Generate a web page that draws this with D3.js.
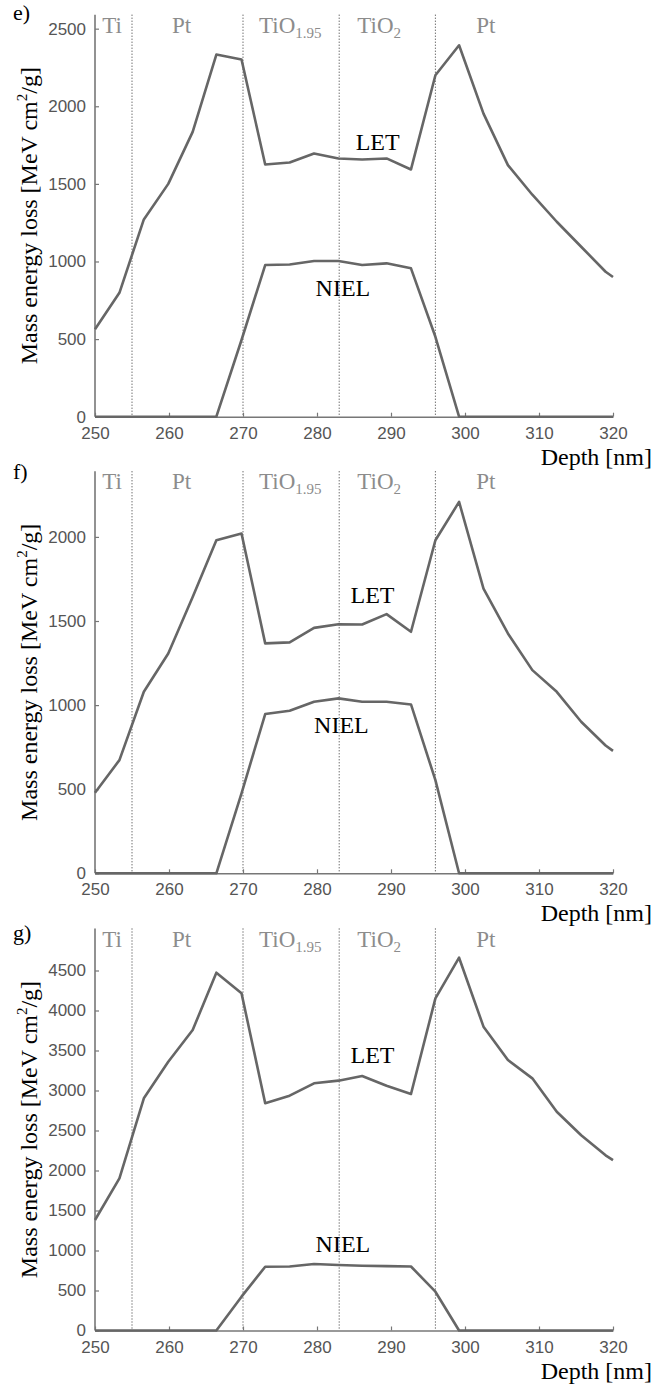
<!DOCTYPE html>
<html><head><meta charset="utf-8">
<script src="https://cdn.jsdelivr.net/npm/d3@7"></script>
<style>body{margin:0;background:#fff}svg{display:block}</style>
</head><body>
<script>
// ---- data ----
const depth = [250, 253.3, 256.6, 259.9, 263.2, 266.4, 269.8, 273.0, 276.3, 279.6, 282.9, 286.1, 289.4, 292.7, 296.0, 299.2, 302.5, 305.8, 309.1, 312.4, 315.7, 319.0, 320];
const letE  = [563, 798, 1271, 1500, 1835, 2333, 2301, 1625, 1638, 1696, 1664, 1657, 1664, 1593, 2200, 2393, 1953, 1621, 1430, 1256, 1095, 934, 900];
const nielE = [0, 0, 0, 0, 0, 0, 494, 977, 981, 1003, 1003, 977, 988, 956, 515, 0, 0, 0, 0, 0, 0, 0, 0];
const letF  = [479, 673, 1079, 1307, 1643, 1980, 2020, 1367, 1373, 1459, 1481, 1479, 1541, 1436, 1980, 2208, 1693, 1426, 1208, 1079, 901, 760, 728];
const nielF = [0, 0, 0, 0, 0, 0, 475, 947, 966, 1020, 1040, 1020, 1020, 1004, 554, 0, 0, 0, 0, 0, 0, 0, 0];
const letG  = [1381, 1902, 2902, 3360, 3756, 4473, 4215, 2840, 2935, 3090, 3123, 3181, 3060, 2956, 4152, 4660, 3798, 3381, 3152, 2735, 2440, 2190, 2130];
const nielG = [0, 0, 0, 0, 0, 0, 423, 797, 800, 831, 819, 810, 805, 800, 485, 0, 0, 0, 0, 0, 0, 0, 0];
const xTicks = [250, 260, 270, 280, 290, 300, 310, 320];
const yTicksE = [0, 500, 1000, 1500, 2000, 2500];
const yTicksF = [0, 500, 1000, 1500, 2000];
const yTicksG = [0, 500, 1000, 1500, 2000, 2500, 3000, 3500, 4000, 4500];
const layerBounds = [255, 270, 283, 296];
const layerNames = ["Ti", "Pt", "TiO", "TiO", "Pt"];
const layerSubs  = ["", "", "1.95", "2", ""];
const layerCenters = [252.3, 261.7, 276.4, 288.4, 302.8];
const panelLabels = ["e)", "f)", "g)"];
const yMaxes = [2590, 2390, 5025];

// ---- layout ----
const W = 667, H = 1387;
const serif = "'Liberation Serif','Times New Roman',serif";
const sans = "'Liberation Sans',Arial,sans-serif";
const svg = d3.select("body").append("svg").attr("width", W).attr("height", H);
const x = d3.scaleLinear().domain([250, 320]).range([95, 613]);

const panels = [
  {let: letE, niel: nielE, yTicks: yTicksE, bottom: 416.7, labY: 20, letPos: [288.2, 1717], nielPos: [283.5, 777]},
  {let: letF, niel: nielF, yTicks: yTicksF, bottom: 873.3, labY: 479, letPos: [287.5, 1606], nielPos: [283.3, 834]},
  {let: letG, niel: nielG, yTicks: yTicksG, bottom: 1330.5, labY: 940, letPos: [287.5, 3348], nielPos: [283.5, 985]}
];
const plotH = 402;
const lineCol = "#666", axisCol = "#777", tickTxt = "#555";

panels.forEach((p, i) => {
  const top = p.bottom - plotH;
  const y = d3.scaleLinear().domain([0, yMaxes[i]]).range([p.bottom, top]);
  const g = svg.append("g");

  // layer boundaries (dotted)
  g.selectAll("line.bound").data(layerBounds).join("line")
    .attr("x1", d => x(d)).attr("x2", d => x(d))
    .attr("y1", top).attr("y2", p.bottom)
    .attr("stroke", "#333").attr("stroke-width", 1).attr("stroke-dasharray", "1,2");

  // layer names
  layerNames.forEach((n, k) => {
    const t = g.append("text").attr("x", x(layerCenters[k])).attr("y", top + 18)
      .attr("text-anchor", "middle").attr("font-family", serif).attr("font-size", 23)
      .attr("fill", "#8c8c8c").text(n);
    if (layerSubs[k]) t.append("tspan").attr("font-size", 15).attr("dy", 5).text(layerSubs[k]);
  });

  // axes
  const xAx = g.append("g").attr("transform", `translate(0,${p.bottom})`)
    .call(d3.axisBottom(x).tickValues(xTicks).tickSizeInner(-4).tickSizeOuter(0).tickPadding(10).tickFormat(d3.format("d")));
  const yAx = g.append("g").attr("transform", `translate(${x(250)},0)`)
    .call(d3.axisLeft(y).tickValues(p.yTicks).tickSizeInner(-4).tickSizeOuter(0).tickPadding(9).tickFormat(d3.format("d")));
  [xAx, yAx].forEach(a => {
    a.select(".domain").attr("stroke", axisCol).attr("stroke-width", 1.6);
    a.selectAll(".tick line").attr("stroke", axisCol).attr("stroke-width", 1.2);
    a.selectAll(".tick text").attr("fill", tickTxt).attr("font-family", sans).attr("font-size", 17);
  });
  // y axis line extends to top
  yAx.select(".domain").attr("d", `M0,${p.bottom}V${top}`);

  // lines
  const line = d3.line().x((d, k) => x(depth[k])).y(d => y(d));
  [p.niel, p.let].forEach(s => {
    g.append("path").datum(s).attr("d", line).attr("fill", "none")
      .attr("stroke", lineCol).attr("stroke-width", 2.6).attr("stroke-linejoin", "round");
  });

  // series labels
  g.append("text").attr("x", x(p.letPos[0])).attr("y", y(p.letPos[1])).attr("text-anchor", "middle")
    .attr("font-family", serif).attr("font-size", 24).attr("fill", "#000").text("LET");
  g.append("text").attr("x", x(p.nielPos[0])).attr("y", y(p.nielPos[1])).attr("text-anchor", "middle")
    .attr("font-family", serif).attr("font-size", 24).attr("fill", "#000").text("NIEL");

  // panel label
  g.append("text").attr("x", 13).attr("y", p.labY).attr("font-family", serif).attr("font-size", 22)
    .attr("fill", "#000").text(panelLabels[i]);

  // y axis title
  const yt = g.append("text").attr("transform", `translate(37,${(top + p.bottom) / 2}) rotate(-90)`)
    .attr("text-anchor", "middle").attr("font-family", serif).attr("font-size", 24).attr("fill", "#000");
  yt.append("tspan").text("Mass energy loss [MeV cm");
  yt.append("tspan").attr("font-size", 15).attr("dy", -10).text("2");
  yt.append("tspan").attr("dy", 10).text("/g]");

  // x axis title
  g.append("text").attr("x", 652).attr("y", p.bottom + 48).attr("text-anchor", "end")
    .attr("font-family", serif).attr("font-size", 24).attr("fill", "#000").text("Depth [nm]");
});
</script>
</body></html>
